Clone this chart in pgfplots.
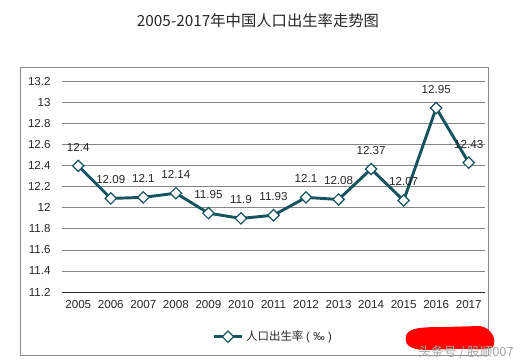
\documentclass[border=0pt]{standalone}
\usepackage{pgfplots}
\pgfplotsset{compat=1.18}
\usepackage{fontspec}
\setmainfont{Liberation Sans}
\newfontfamily\cjk{Noto Sans CJK SC}
\definecolor{lineteal}{RGB}{22,84,96}
\definecolor{gridgray}{RGB}{134,134,134}
\definecolor{framegray}{RGB}{140,140,140}
\begin{document}
\begin{tikzpicture}[x=0.75pt,y=0.75pt]
\useasboundingbox (0,0) rectangle (526,364);
% outer frame
\draw[framegray, line width=0.65pt] (20,{364-67}) rectangle (488,{364-355});
% title
\node[font=\cjk\fontsize{11.5}{13}\selectfont, text=black!85] at (258,{364-21}) {2005-2017年中国人口出生率走势图};
\begin{axis}[
  at={(46.5pt,54pt)}, anchor=south west,
  scale only axis,
  width=317.25pt, height=157.7pt,
  xmin=2004.5, xmax=2017.5,
  ymin=11.2, ymax=13.2,
  ytick={11.2,11.4,11.6,11.8,12,12.2,12.4,12.6,12.8,13,13.2},
  xtick={2005,2006,...,2017},
  xticklabel style={/pgf/number format/1000 sep={}},
  /pgf/number format/assume math mode=true,
  tick label style={font=\fontsize{8.7}{10}\selectfont, text=black!85},
  major tick length=0pt,
  axis x line*=bottom, axis y line*=left,
  y axis line style={draw=none},
  x axis line style={black!85, line width=0.65pt, -},
  ymajorgrids, grid style={gridgray, line width=0.65pt},
  yticklabel style={xshift=-5pt},
  xticklabel style={yshift=-3pt},
  clip=false,
  legend style={at={(0.5,-0.2125)}, anchor=center, draw=none, fill=none,
    font=\cjk\fontsize{8.6}{10}\selectfont, text=black!85, inner sep=0pt},
  legend image code/.code={
    \draw[#1, mark repeat=2, mark phase=2] plot coordinates {(0cm,0cm) (0.37cm,0cm) (0.74cm,0cm)};
  },
  nodes near coords,
  point meta=explicit symbolic,
  every node near coord/.style={anchor=center, yshift=14pt, font=\fontsize{8.7}{10}\selectfont, text=black!85},
]
\addplot[lineteal, line width=2.2pt, mark=square*,
  mark options={rotate=45, fill=white, draw=lineteal, line width=0.9pt, mark size=3pt}]
  table[meta=label] {
x y label
2005 12.40 12.4
2006 12.09 12.09
2007 12.10 12.1
2008 12.14 12.14
2009 11.95 11.95
2010 11.90 11.9
2011 11.93 11.93
2012 12.10 12.1
2013 12.08 12.08
2014 12.37 12.37
2015 12.07 12.07
2016 12.95 12.95
2017 12.43 12.43
};
\addlegendentry{人口出生率{\fontspec{Liberation Sans}\hspace{2pt}(\hspace{2.5pt}‰\hspace{2.5pt})}}
\end{axis}
% watermark
\fill[red] (406,{364-336}) .. controls (408,{364-328}) and (420,{364-327}) .. (445,{364-327})
  -- (480,{364-326}) .. controls (492,{364-328}) and (497,{364-340}) .. (493,{364-347})
  .. controls (485,{364-351}) and (470,{364-348}) .. (455,{364-349})
  -- (425,{364-350}) .. controls (410,{364-350}) and (404,{364-344}) .. cycle;
\node[font=\cjk\fontsize{9.5}{11}\selectfont, text=black!35] at (466,{364-352}) {头条号 / 股顺007};
\end{tikzpicture}
\end{document}
